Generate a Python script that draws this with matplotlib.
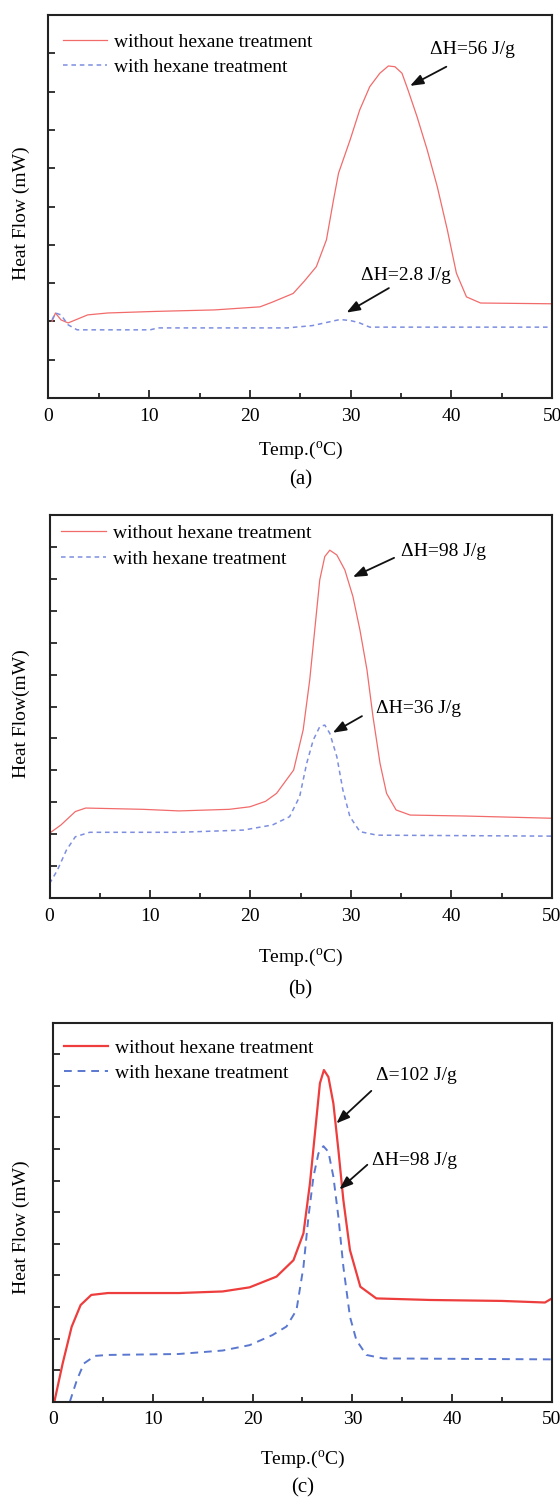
import matplotlib
matplotlib.use("Agg")
import matplotlib.pyplot as plt
from matplotlib.ticker import MultipleLocator

plt.rcParams['font.family'] = ['Liberation Serif', 'DejaVu Serif']
plt.rcParams['mathtext.fontset'] = 'custom'
plt.rcParams['mathtext.rm'] = 'Liberation Serif'

# ---- panel (a) ----
a_red_x = [0.36, 0.7, 1.25, 1.96, 3.9, 5.9, 10.5, 16.5, 21.0, 22.2, 24.3, 25.4, 26.6, 27.6,
           28.3, 28.8, 29.95, 30.9, 31.9, 32.9, 33.75, 34.4, 35.1, 35.7, 36.6, 37.6, 38.6,
           39.6, 40.5, 41.5, 42.9, 50.0]
a_red_y = [2.0, 2.22, 2.04, 1.96, 2.17, 2.22, 2.26, 2.3, 2.38, 2.5, 2.73, 3.05, 3.43, 4.13,
           5.17, 5.87, 6.74, 7.52, 8.13, 8.48, 8.67, 8.65, 8.48, 8.04, 7.34, 6.48, 5.52,
           4.39, 3.26, 2.64, 2.48, 2.46]
a_blue_x = [0.36, 0.7, 1.25, 1.96, 2.85, 10.1, 10.9, 23.7, 26.2, 28.96, 30.0, 30.8, 31.9, 50.0]
a_blue_y = [2.04, 2.22, 2.17, 1.91, 1.78, 1.78, 1.83, 1.83, 1.89, 2.05, 2.02, 1.97, 1.85, 1.85]

# ---- panel (b) ----
b_red_x = [0.0, 1.14, 2.57, 3.6, 9.3, 12.9, 17.9, 19.95, 21.5, 22.6, 24.3, 25.25, 25.9, 26.4,
           26.9, 27.4, 27.9, 28.6, 29.4, 30.2, 30.9, 31.6, 32.2, 32.9, 33.55, 34.5, 35.9,
           41.4, 50.0]
b_red_y = [2.03, 2.29, 2.71, 2.82, 2.78, 2.73, 2.78, 2.86, 3.03, 3.28, 4.01, 5.27, 6.83, 8.4,
           9.97, 10.7, 10.9, 10.75, 10.28, 9.45, 8.4, 7.15, 5.68, 4.22, 3.28, 2.76, 2.6,
           2.57, 2.5]
b_blue_x = [0.0, 0.78, 1.68, 2.57, 4.0, 12.9, 19.3, 22.2, 23.9, 24.9, 25.6, 26.25, 26.9, 27.4,
            27.9, 28.6, 29.2, 29.9, 30.9, 32.6, 50.0]
b_blue_y = [0.45, 0.87, 1.5, 1.92, 2.06, 2.06, 2.13, 2.29, 2.55, 3.18, 4.22, 4.95, 5.37, 5.42,
            5.16, 4.43, 3.39, 2.55, 2.08, 1.97, 1.94]

# ---- panel (c) ----
c_red_x = [0.14, 0.97, 1.87, 2.77, 3.84, 5.5, 12.6, 17.0, 19.7, 22.4, 24.1, 25.1, 25.75, 26.25,
           26.75, 27.15, 27.6, 28.1, 28.6, 29.1, 29.76, 30.8, 32.4, 37.8, 45.0, 49.3, 50.0]
c_red_y = [0.0, 1.21, 2.37, 3.06, 3.38, 3.44, 3.44, 3.49, 3.62, 3.96, 4.48, 5.33, 6.91, 8.49,
           10.08, 10.5, 10.28, 9.44, 7.97, 6.38, 4.8, 3.64, 3.27, 3.22, 3.19, 3.14, 3.27]
c_blue_x = [1.69, 2.4, 3.1, 4.2, 5.5, 12.6, 17.0, 19.7, 22.0, 23.4, 24.4, 25.1, 25.6, 26.1,
            26.6, 27.1, 27.6, 28.1, 28.6, 29.1, 29.76, 30.4, 31.4, 33.1, 50.0]
c_blue_y = [0.0, 0.69, 1.21, 1.45, 1.48, 1.51, 1.62, 1.79, 2.11, 2.38, 2.9, 4.27, 5.85, 7.12,
            7.86, 8.09, 7.91, 7.12, 5.85, 4.27, 2.69, 1.95, 1.48, 1.37, 1.34]

legend_labels = ['without hexane treatment', 'with hexane treatment']

fig = plt.figure(figsize=(5.6, 15.03), dpi=100)

panels = [
    dict(rect=[0.0864, 0.7352, 0.8995, 0.2548], ymax=10, letter='(a)', ylabel='Heat Flow (mW)',
         red=(a_red_x, a_red_y), blue=(a_blue_x, a_blue_y),
         red_c='#f26b6b', blue_c='#7d8ee0', red_lw=0.9, blue_lw=1.1, blue_ls=(0, (3, 2.5)),
         leg=(0.0284, 0.953),
         notes=[('ΔH=56 J/g', (37.9, 9.09), (39.5, 8.65), (35.9, 8.15)),
                ('ΔH=2.8 J/g', (31.0, 3.2), (33.8, 2.87), (29.6, 2.23))],
         xl=-0.136, let=-0.214, yl=(-0.053, 0.483)),
    dict(rect=[0.0884, 0.4025, 0.897, 0.2548], ymax=12, letter='(b)', ylabel='Heat Flow(mW)',
         red=(b_red_x, b_red_y), blue=(b_blue_x, b_blue_y),
         red_c='#f26b6b', blue_c='#7d8ee0', red_lw=0.9, blue_lw=1.1, blue_ls=(0, (3, 2.5)),
         leg=(0.0229, 0.975),
         notes=[('ΔH=98 J/g', (35.0, 10.85), (34.3, 10.66), (30.2, 10.06)),
                ('ΔH=36 J/g', (32.5, 5.93), (31.1, 5.7), (28.2, 5.18))],
         xl=-0.154, let=-0.240, yl=(-0.056, 0.482)),
    dict(rect=[0.0946, 0.0674, 0.891, 0.2522], ymax=12, letter='(c)', ylabel='Heat Flow (mW)',
         red=(c_red_x, c_red_y), blue=(c_blue_x, c_blue_y),
         red_c='#ee3d3d', blue_c='#5a78d0', red_lw=1.6, blue_lw=1.4, blue_ls=(0, (4, 3)),
         leg=(0.0216, 0.957),
         notes=[('Δ=102 J/g', (32.4, 10.34), (31.9, 9.84), (28.4, 8.81)),
                ('ΔH=98 J/g', (32.0, 7.65), (31.5, 7.5), (28.7, 6.72))],
         xl=-0.153, let=-0.227, yl=(-0.063, 0.46)),
]

for p in panels:
    ax = fig.add_axes(p['rect'])
    ax.plot(*p['red'], color=p['red_c'], lw=p['red_lw'], label=legend_labels[0])
    ax.plot(*p['blue'], color=p['blue_c'], lw=p['blue_lw'], linestyle=p['blue_ls'],
            label=legend_labels[1])
    ax.set_xlim(0, 50)
    ax.set_ylim(0, p['ymax'])
    ax.xaxis.set_major_locator(MultipleLocator(10))
    ax.xaxis.set_minor_locator(MultipleLocator(5))
    ax.set_yticks(list(range(1, p['ymax'])))
    ax.tick_params(axis='x', which='major', direction='in', length=6, width=1.1,
                   labelsize=14, pad=7, top=False)
    ax.tick_params(axis='x', which='minor', direction='in', length=3.5, width=1.1, top=False)
    ax.tick_params(axis='y', which='major', direction='in', length=5, width=1.1,
                   labelleft=False, right=False)
    for s in ax.spines.values():
        s.set_linewidth(1.5)
        s.set_color('#222222')

    ax.text(0.5, p['xl'], 'Temp.($\\mathregular{^o}$C)', transform=ax.transAxes,
            ha='center', va='center', fontsize=14)
    ax.text(0.5, p['let'], p['letter'], transform=ax.transAxes,
            ha='center', va='center', fontsize=15)
    ax.text(p['yl'][0], p['yl'][1], p['ylabel'], transform=ax.transAxes, rotation=90,
            ha='center', va='center', fontsize=14)

    ax.legend(loc='upper left', bbox_to_anchor=p['leg'], frameon=False, fontsize=14,
              borderpad=0, borderaxespad=0, handlelength=2.3, handletextpad=0.35,
              labelspacing=0.4)

    for txt, tpos, astart, aend in p['notes']:
        ax.text(tpos[0], tpos[1], txt, ha='left', va='center', fontsize=14)
        ax.annotate('', xy=aend, xytext=astart,
                    arrowprops=dict(arrowstyle='-|>,head_length=0.8,head_width=0.3',
                                    color='#111111', lw=1.3, shrinkA=0, shrinkB=0))

fig.savefig('out.png', dpi=100, facecolor='white')
